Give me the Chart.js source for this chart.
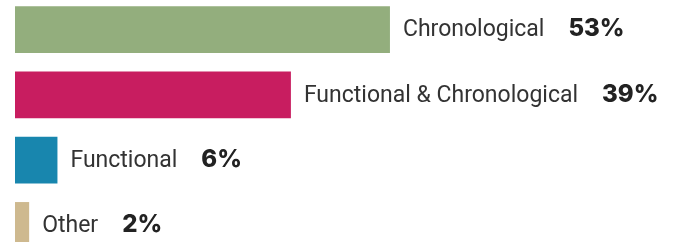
<!DOCTYPE html>
<html>
<head>
<meta charset="utf-8">
<script src="https://cdn.jsdelivr.net/npm/chart.js@4"></script>
<style>
  html, body { margin: 0; padding: 0; background: #fff; overflow: hidden; width: 681px; height: 242px; }
  #wrap { position: absolute; left: 0; top: -3px; width: 681px; height: 261px; }
</style>
</head>
<body>
<div id="wrap"><canvas id="c" width="681" height="261"></canvas></div>
<script>
const categories = ['Chronological', 'Functional & Chronological', 'Functional', 'Other'];
const values = [53, 39, 6, 2];
const valueLabels = ['53%', '39%', '6%', '2%'];

const barColors = ['#93AE7D', '#C81D60', '#1886AE', '#CEB98F'];

const labelPlugin = {
  id: 'barLabels',
  afterDatasetsDraw(chart) {
    const ctx = chart.ctx;
    const meta = chart.getDatasetMeta(0);
    ctx.save();
    ctx.textBaseline = 'alphabetic';
    ctx.textAlign = 'left';
    meta.data.forEach((bar, i) => {
      const xStart = bar.x + 13;
      const baseline = bar.y + 6.7;
      ctx.font = '400 23px Roboto';
      ctx.fillStyle = '#333333';
      ctx.fillText(categories[i], xStart, baseline);
      const w = ctx.measureText(categories[i]).width;
      ctx.font = '800 24px Inter';
      ctx.fillStyle = '#222222';
      ctx.fillText(valueLabels[i], xStart + w + 24, baseline);
    });
    ctx.restore();
  }
};

new Chart(document.getElementById('c'), {
  type: 'bar',
  data: {
    labels: categories,
    datasets: [{
      data: values,
      backgroundColor: barColors,
      borderWidth: 0,
      categoryPercentage: 1,
      barPercentage: 0.715
    }]
  },
  options: {
    indexAxis: 'y',
    responsive: false,
    devicePixelRatio: 1,
    animation: false,
    layout: { padding: { left: 15, right: 1, top: 0, bottom: 0 } },
    plugins: { legend: { display: false }, tooltip: { enabled: false } },
    scales: {
      x: { display: false, min: 0, max: 94 },
      y: { display: false }
    }
  },
  plugins: [labelPlugin]
});
</script>
</body>
</html>
